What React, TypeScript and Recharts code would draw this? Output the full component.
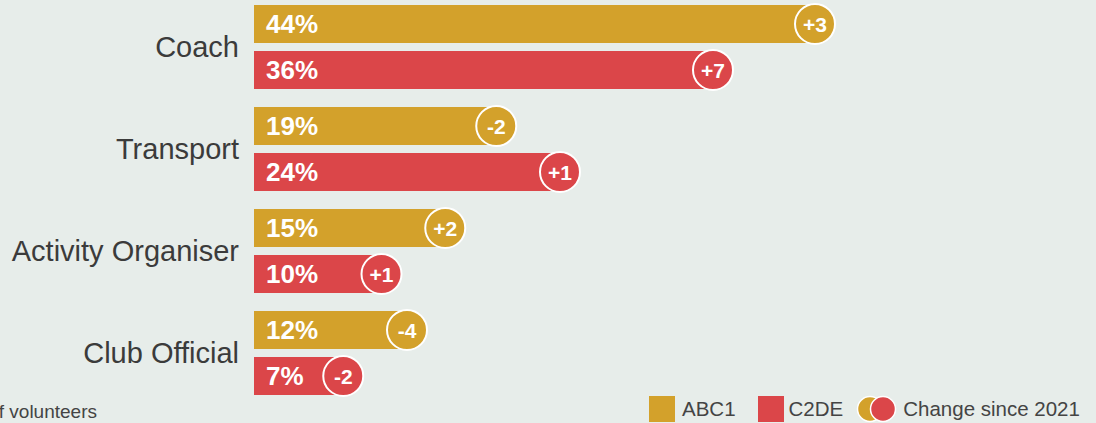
import { BarChart, Bar, XAxis, YAxis, LabelList } from 'recharts';

const categories = ['Coach', 'Transport', 'Activity Organiser', 'Club Official'];
const abc1 = [44, 19, 15, 12];
const c2de = [36, 24, 10, 7];
const abc1Change = ['+3', '-2', '+2', '-4'];
const c2deChange = ['+7', '+1', '+1', '-2'];

const GOLD = '#d3a12b';
const RED = '#db4649';
const BG = '#e7edea';
const TEXT = '#3b3b3b';
const FONT = '"Liberation Sans", Arial, Helvetica, sans-serif';

const data = categories.map((name, i) => ({
    name,
    abc1: abc1[i],
    c2de: c2de[i],
    abc1Change: abc1Change[i],
    c2deChange: c2deChange[i],
}));

const CategoryTick = ({ x, y, payload }: any) => (
    <text x={x} y={y} textAnchor="end" dominantBaseline="central" fill={TEXT} fontSize={29} fontFamily={FONT}>
        {payload.value}
    </text>
);

const ValueLabel = ({ x, y, height, value }: any) => (
    <text
        x={x + 12}
        y={y + height / 2}
        dominantBaseline="central"
        fill="#fff"
        fontSize={26}
        fontWeight="bold"
        fontFamily={FONT}
    >
        {value}%
    </text>
);

const changeBadge = (color: string) => ({ x, y, width, height, value }: any) => {
    const cx = x + width;
    const cy = y + height / 2;
    return (
        <g>
            <circle cx={cx} cy={cy} r={20} fill={color} stroke="#fff" strokeWidth={2} />
            <text
                x={cx}
                y={cy}
                textAnchor="middle"
                dominantBaseline="central"
                fill="#fff"
                fontSize={21}
                fontWeight="bold"
                fontFamily={FONT}
            >
                {value}
            </text>
        </g>
    );
};

const Swatch = ({ color }: { color: string }) => (
    <span style={{ display: 'inline-block', width: 26, height: 26, background: color }} />
);

export default function App() {
    return (
        <div
            style={{
                position: 'absolute',
                top: 0,
                left: 0,
                width: 1096,
                height: 423,
                background: BG,
                overflow: 'hidden',
                fontFamily: FONT,
            }}
        >
            <BarChart
                width={1096}
                height={423}
                data={data}
                layout="vertical"
                margin={{ top: -4, right: 77, bottom: 19, left: 0 }}
                barSize={38}
                barGap={8}
            >
                <XAxis type="number" hide domain={[0, 60]} />
                <YAxis
                    type="category"
                    dataKey="name"
                    width={254}
                    axisLine={false}
                    tickLine={false}
                    tickSize={0}
                    tickMargin={15}
                    tick={<CategoryTick />}
                />
                <Bar dataKey="abc1" name="ABC1" fill={GOLD} isAnimationActive={false}>
                    <LabelList dataKey="abc1" content={<ValueLabel />} />
                    <LabelList dataKey="abc1Change" content={changeBadge(GOLD)} />
                </Bar>
                <Bar dataKey="c2de" name="C2DE" fill={RED} isAnimationActive={false}>
                    <LabelList dataKey="c2de" content={<ValueLabel />} />
                    <LabelList dataKey="c2deChange" content={changeBadge(RED)} />
                </Bar>
            </BarChart>

            <span
                style={{
                    position: 'absolute',
                    right: 1096 - 97,
                    top: 401,
                    fontSize: 19,
                    color: '#444',
                    whiteSpace: 'nowrap',
                }}
            >
                % of volunteers
            </span>

            <div
                style={{
                    position: 'absolute',
                    left: 649,
                    top: 396,
                    height: 26,
                    display: 'flex',
                    alignItems: 'center',
                    fontSize: 20.5,
                    color: '#444',
                    whiteSpace: 'nowrap',
                }}
            >
                <Swatch color={GOLD} />
                <span style={{ marginLeft: 7 }}>ABC1</span>
                <span style={{ marginLeft: 22, display: 'inline-flex' }}>
                    <Swatch color={RED} />
                </span>
                <span style={{ marginLeft: 5 }}>C2DE</span>
                <svg width={42} height={28} style={{ marginLeft: 13 }}>
                    <circle cx={14} cy={14} r={12.5} fill={GOLD} stroke="#fff" strokeWidth={1.5} />
                    <circle cx={27} cy={14} r={12.5} fill={RED} stroke="#fff" strokeWidth={1.5} />
                </svg>
                <span style={{ marginLeft: 5 }}>Change since 2021</span>
            </div>
        </div>
    );
}
